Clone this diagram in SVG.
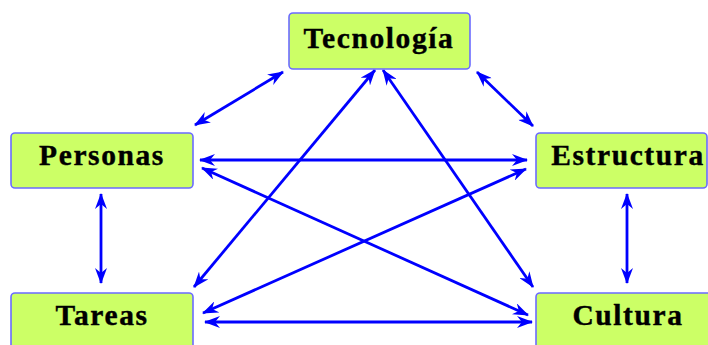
<svg xmlns="http://www.w3.org/2000/svg" width="708" height="345" viewBox="0 0 708 345">
  <style>
    .box { fill: #ccff66; stroke: #6b6bff; stroke-width: 1.6; }
    .label { font-family: "Liberation Serif", "Times New Roman", serif; font-weight: bold; font-size: 29.5px; letter-spacing: 1.6px; fill: #000; stroke: #000; stroke-width: 0.4; text-anchor: middle; }
    .link { stroke: #0000ff; stroke-width: 2.8; fill: none; marker-start: url(#head); marker-end: url(#head); }
  </style>
  <defs>
    <marker id="head" viewBox="0 0 16 12" refX="15" refY="6" markerWidth="16" markerHeight="12" markerUnits="userSpaceOnUse" orient="auto-start-reverse">
      <path d="M0,0 L16,6 L0,12 L5,6 Z" fill="#0000ff"/>
    </marker>
  </defs>
  <rect width="708" height="345" fill="#ffffff"/>

  <g id="connectors">
    <!-- Tecnología to its neighbours -->
    <line class="link" x1="283" y1="72" x2="195" y2="125"/>
    <line class="link" x1="477" y1="72" x2="533" y2="126"/>
    <line class="link" x1="375" y1="70" x2="194" y2="287"/>
    <line class="link" x1="383" y1="70" x2="533" y2="287"/>
    <!-- horizontals -->
    <line class="link" x1="200" y1="160" x2="527" y2="160"/>
    <line class="link" x1="205" y1="322" x2="532" y2="322"/>
    <!-- crossing diagonals -->
    <line class="link" x1="202" y1="168" x2="528" y2="315"/>
    <line class="link" x1="203" y1="313" x2="526" y2="169"/>
    <!-- verticals -->
    <line class="link" x1="101" y1="194" x2="101" y2="283"/>
    <line class="link" x1="627" y1="194" x2="627" y2="283"/>
  </g>

  <g id="tecnologia">
    <rect class="box" x="289" y="13" width="181" height="56" rx="4"/>
    <text class="label" x="379" y="48">Tecnología</text>
  </g>
  <g id="personas">
    <rect class="box" x="11" y="133" width="182" height="55" rx="4"/>
    <text class="label" x="102" y="165">Personas</text>
  </g>
  <g id="estructura">
    <rect class="box" x="536" y="133" width="171" height="55" rx="4"/>
    <text class="label" x="628" y="165">Estructura</text>
  </g>
  <g id="tareas">
    <rect class="box" x="11" y="293" width="182" height="70" rx="4"/>
    <text class="label" x="102" y="325">Tareas</text>
  </g>
  <g id="cultura">
    <rect class="box" x="536" y="293" width="180" height="70" rx="4"/>
    <text class="label" x="628" y="325">Cultura</text>
  </g>
</svg>
